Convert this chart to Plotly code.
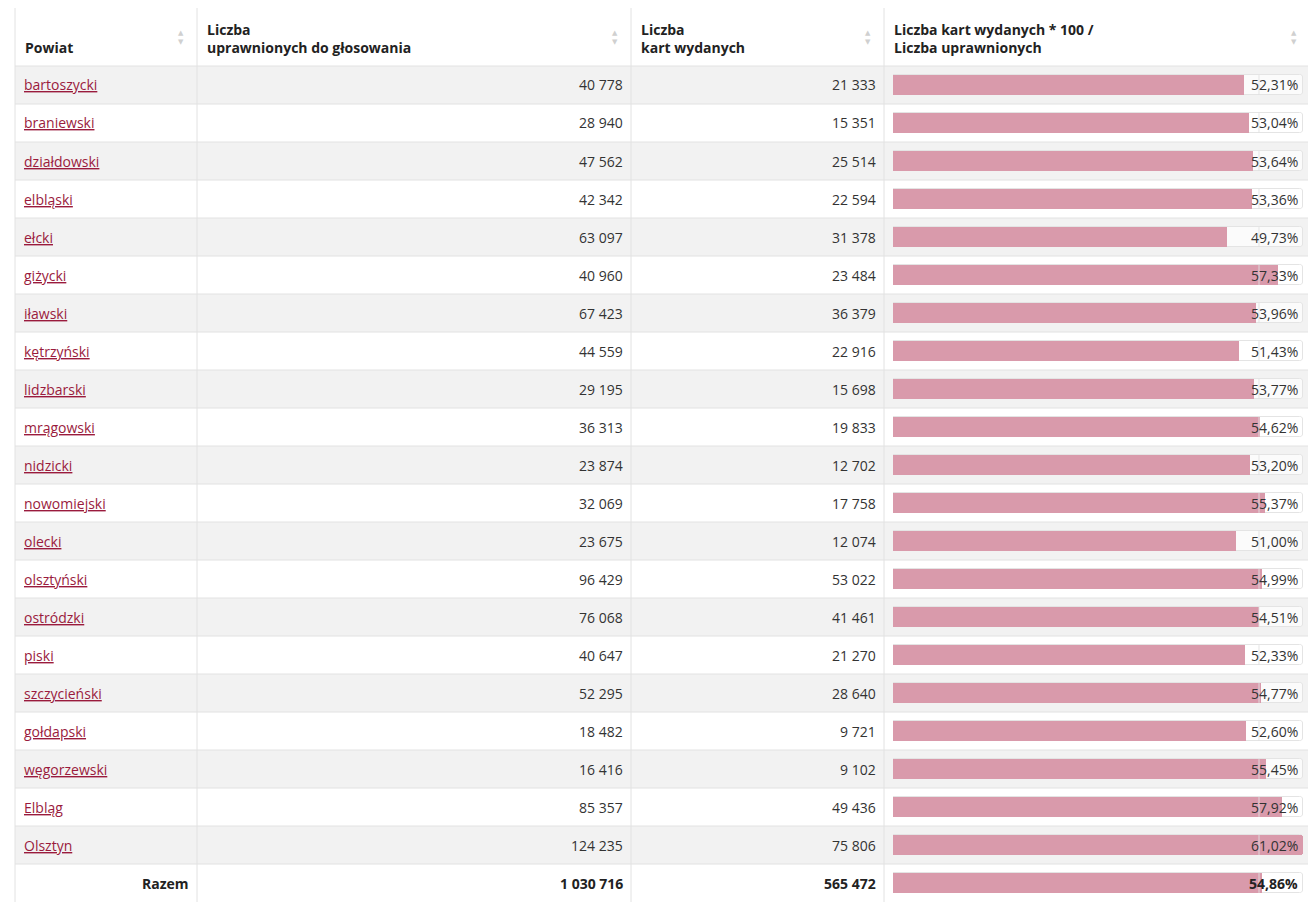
import plotly.graph_objects as go

#?--------------------------------------------------------------------------
#?  Data
#?--------------------------------------------------------------------------
powiaty     = ["bartoszycki", "braniewski", "działdowski", "elbląski", "ełcki", "giżycki",
               "iławski", "kętrzyński", "lidzbarski", "mrągowski", "nidzicki", "nowomiejski",
               "olecki", "olsztyński", "ostródzki", "piski", "szczycieński", "gołdapski",
               "węgorzewski", "Elbląg", "Olsztyn"]
uprawnieni  = [40778, 28940, 47562, 42342, 63097, 40960, 67423, 44559, 29195, 36313, 23874,
               32069, 23675, 96429, 76068, 40647, 52295, 18482, 16416, 85357, 124235]
karty       = [21333, 15351, 25514, 22594, 31378, 23484, 36379, 22916, 15698, 19833, 12702,
               17758, 12074, 53022, 41461, 21270, 28640, 9721, 9102, 49436, 75806]
frekwencja  = [52.31, 53.04, 53.64, 53.36, 49.73, 57.33, 53.96, 51.43, 53.77, 54.62, 53.20,
               55.37, 51.00, 54.99, 54.51, 52.33, 54.77, 52.60, 55.45, 57.92, 61.02]
razem_label = "Razem"
razem_upr   = 1030716
razem_kart  = 565472
razem_frek  = 54.86
headers     = ["Powiat", "Liczba<br>uprawnionych do głosowania", "Liczba<br>kart wydanych",
               "Liczba kart wydanych * 100 /<br>Liczba uprawnionych"]

#?--------------------------------------------------------------------------
#?  Layout constants (page pixels; the html body has an 8px margin)
#?--------------------------------------------------------------------------
PAGE_W, PAGE_H = 1316, 902
OFF         = 8
W, H        = PAGE_W - 2 * OFF, PAGE_H - OFF       # figure size (runs to the page bottom)
col_x       = [15, 197, 631, 884, 1310]            # column borders
top, head_b = 7, 66                                # table top / header bottom
row_h       = 38
n_rows      = len(powiaty) + 1
track_l, track_r = 893, 1303
fig_bottom  = OFF + H                              # last visible page pixel of the figure

FONT        = "Open Sans"
TXT         = "#333333"
LINK        = "#9a1b3d"
BAR         = "#d99aab"
GRID        = "#e2e2e2"

fmt_int = lambda v: f"{v:,}".replace(",", " ")
fmt_pct = lambda v: f"{v:.2f}".replace(".", ",") + "%"

fig = go.Figure()

#?  background track + bars on their own axis pair
rows_idx  = list(range(n_rows))
vals      = frekwencja + [razem_frek]
vmax      = max(vals)
fig.add_trace(go.Bar(x=[vmax] * n_rows, y=rows_idx, orientation="h", width=0.53,
                     marker=dict(color="rgba(255,255,255,0.7)", line=dict(color="#e4e4e4", width=1),
                                 cornerradius=3),
                     xaxis="x2", yaxis="y2", hoverinfo="skip", showlegend=False))
fig.add_trace(go.Bar(x=vals, y=rows_idx, orientation="h", width=0.53,
                     marker=dict(color=BAR, line=dict(width=0), cornerradius=3),
                     xaxis="x2", yaxis="y2", hoverinfo="skip", showlegend=False))

shapes, ann = [], []

#?  row backgrounds
for i in range(n_rows):
    y0 = head_b + i * row_h
    if i % 2 == 0:
        shapes.append(dict(type="rect", xref="x", yref="y", x0=col_x[0], x1=col_x[-1], y0=y0, y1=y0 + row_h,
                           fillcolor="#f2f2f2", line=dict(width=0), layer="below"))
    shapes.append(dict(type="line", xref="x", yref="y", x0=col_x[0], x1=col_x[-1], y0=y0, y1=y0,
                       line=dict(color=GRID, width=1), layer="below"))

#?  column borders + top border
for cx in col_x:
    shapes.append(dict(type="line", xref="x", yref="y", x0=cx, x1=cx, y0=top, y1=fig_bottom,
                       line=dict(color=GRID, width=1), layer="below"))
shapes.append(dict(type="line", xref="x", yref="y", x0=col_x[0], x1=col_x[-1], y0=top, y1=top,
                   line=dict(color=GRID, width=1), layer="below"))

#?  label box edge inside each track
for i in range(n_rows):
    shapes.append(dict(type="line", xref="x", yref="y2", x0=1259, x1=1259, y0=i - 0.26, y1=i + 0.26,
                       line=dict(color="rgba(225,225,225,0.9)", width=1), layer="above"))

#?  header texts + sort arrows
for c, h in enumerate(headers):
    ann.append(dict(x=col_x[c] + 8, y=47 if c == 0 else 38, xref="x", yref="y", text=h, showarrow=False,
                    xanchor="left", yanchor="middle", align="left",
                    font=dict(family=FONT, size=14, color="#222222", weight="bold")))
    ax = col_x[c + 1] - 16
    ann.append(dict(x=ax, y=33, xref="x", yref="y", text="▲", showarrow=False,
                    font=dict(family="DejaVu Sans", size=7, color="#d0d0d0")))
    ann.append(dict(x=ax, y=42, xref="x", yref="y", text="▼", showarrow=False,
                    font=dict(family="DejaVu Sans", size=7, color="#d0d0d0")))

#?  body cells
names = powiaty + [razem_label]
upr   = uprawnieni + [razem_upr]
kart  = karty + [razem_kart]
for i in range(n_rows):
    last = i == n_rows - 1
    wt   = "bold" if last else "normal"
    col  = "#222222" if last else TXT
    if last:
        ann.append(dict(x=col_x[1] - 6, y=i, xref="x", yref="y2", text=names[i], showarrow=False,
                        xanchor="right", font=dict(family=FONT, size=14, color=col, weight=wt)))
    else:
        ann.append(dict(x=col_x[0] + 7, y=i, xref="x", yref="y2", text=names[i], showarrow=False,
                        xanchor="left",
                        font=dict(family=FONT, size=14, color=LINK, lineposition="under")))
    ann.append(dict(x=col_x[2] - 6, y=i, xref="x", yref="y2", text=fmt_int(upr[i]), showarrow=False,
                    xanchor="right", font=dict(family=FONT, size=14, color=col, weight=wt)))
    ann.append(dict(x=col_x[3] - 6, y=i, xref="x", yref="y2", text=fmt_int(kart[i]), showarrow=False,
                    xanchor="right", font=dict(family=FONT, size=14, color=col, weight=wt)))
    ann.append(dict(x=track_r - 3, y=i, xref="x", yref="y2", text=fmt_pct(vals[i]), showarrow=False,
                    xanchor="right", font=dict(family=FONT, size=14, color=col, weight=wt)))

# axis x/y map directly to page pixels; x2/y2 hold the bars (rows keep 38px)
visible_rows = (fig_bottom - head_b) / row_h
fig.update_layout(
    width=W, height=H, margin=dict(l=0, r=0, t=0, b=0),
    paper_bgcolor="white", plot_bgcolor="rgba(0,0,0,0)",
    barmode="overlay", bargap=0,
    xaxis=dict(range=[OFF, OFF + W], visible=False, fixedrange=True),
    yaxis=dict(range=[OFF + H, OFF], visible=False, fixedrange=True),
    xaxis2=dict(domain=[(track_l - OFF) / W, (track_r - OFF) / W], range=[0, vmax],
                visible=False, anchor="y2"),
    yaxis2=dict(domain=[0, (fig_bottom - head_b) / H],
                range=[visible_rows - 0.5, -0.5], visible=False, anchor="x2"),
    shapes=shapes, annotations=ann,
)

fig.write_html("out.html")
